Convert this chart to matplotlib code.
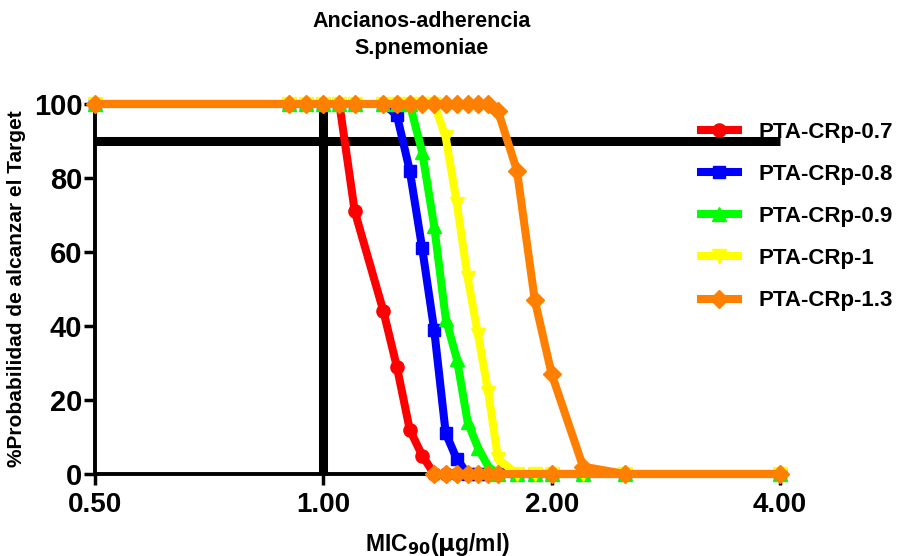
import matplotlib
matplotlib.use("Agg")
import matplotlib.pyplot as plt
from matplotlib.ticker import FixedLocator, NullLocator

# MIC grid (µg/ml)
mic = [0.5, 0.9, 0.95, 1.0, 1.05, 1.1, 1.2, 1.25, 1.3, 1.35, 1.4, 1.45,
       1.5, 1.55, 1.6, 1.65, 1.7, 1.8, 1.9, 2.0, 2.2, 2.5, 4.0]

pta_07 = [100, 100, 100, 100, 100, 71, 44, 29, 12, 5, 0, 0,
          0, 0, 0, 0, 0, 0, 0, 0, 0, 0, 0]
pta_08 = [100, 100, 100, 100, 100, 100, 100, 97, 82, 61, 39, 11,
          4, 0, 0, 0, 0, 0, 0, 0, 0, 0, 0]
pta_09 = [100, 100, 100, 100, 100, 100, 100, 100, 100, 87, 67, 42,
          31, 14, 7, 2, 0, 0, 0, 0, 0, 0, 0]
pta_10 = [100, 100, 100, 100, 100, 100, 100, 100, 100, 100, 100, 91,
          73, 53, 37.5, 22, 4, 0, 0, 0, 0, 0, 0]
pta_13 = [100, 100, 100, 100, 100, 100, 100, 100, 100, 100, 100, 100,
          100, 100, 100, 100, 98, 82, 47, 27, 2, 0, 0]
# additional rows of the 1.3 series (row order kept as in the table)
pta_13_extra_mic = [1.4, 1.45, 1.5, 1.55, 1.6, 1.65, 1.7, 2.0]
pta_13_extra = [0, 0, 0, 0, 0, 0, 0, 0]

labels = ["PTA-CRp-0.7", "PTA-CRp-0.8", "PTA-CRp-0.9", "PTA-CRp-1", "PTA-CRp-1.3"]
colors = ["#FF0000", "#0000FF", "#00FF00", "#FFFF00", "#FF8000"]
markers = ["o", "s", "^", "v", "D"]
msizes = [9.5, 9, 10, 10, 9]

target = 90
mic_cut = 1.0
xticks = [0.5, 1.0, 2.0, 4.0]
xticklabels = ["0.50", "1.00", "2.00", "4.00"]
yticks = [0, 20, 40, 60, 80, 100]

narrow = ["Liberation Sans Narrow", "Liberation Sans", "DejaVu Sans"]
wide = ["Liberation Sans", "DejaVu Sans"]

fig = plt.figure(figsize=(9.02, 5.56), dpi=100)
ax = fig.add_axes([95 / 902, 1 - 474 / 556, (780 - 95) / 902, (474 - 104) / 556])

ax.set_xscale("log", base=2)
ax.set_xlim(0.5, 4.0)
ax.set_ylim(0, 100)

# reference lines
ax.plot([0.5, 4.0], [target, target], color="black", lw=6.5, solid_capstyle="butt",
        zorder=2, clip_on=False)
ax.plot([mic_cut, mic_cut], [0, 100], color="black", lw=6.5, solid_capstyle="butt",
        zorder=2, clip_on=False)

series = [pta_07, pta_08, pta_09, pta_10, pta_13]
handles = []
for i, (ys, lab, c, m, ms) in enumerate(zip(series, labels, colors, markers, msizes)):
    xs = list(mic)
    yv = list(ys)
    if i == 4:
        xs = xs + pta_13_extra_mic
        yv = yv + pta_13_extra
    h, = ax.plot(xs, yv, color=c, lw=5.8, marker=m, ms=ms, mec=c, mfc=c,
                 label=lab, zorder=3 + i, clip_on=False, solid_joinstyle="miter")
    handles.append(h)

# axes styling
for s in ["top", "right"]:
    ax.spines[s].set_visible(False)
for s in ["left", "bottom"]:
    ax.spines[s].set_linewidth(2.8)
    ax.spines[s].set_zorder(1)

ax.xaxis.set_major_locator(FixedLocator(xticks))
ax.xaxis.set_minor_locator(NullLocator())
ax.set_xticklabels(xticklabels)
ax.set_yticks(yticks)
ax.tick_params(axis="both", which="major", direction="out", length=8, width=2.5)
ax.tick_params(axis="y", pad=1)
ax.tick_params(axis="x", pad=5)
for t in ax.get_xticklabels():
    t.set_fontfamily(narrow)
    t.set_fontweight("bold")
    t.set_fontsize(20)
for t in ax.get_yticklabels():
    t.set_fontfamily(wide)
    t.set_fontweight("bold")
    t.set_fontsize(21)

ax.set_ylabel("%Probabilidad de alcanzar el Target", fontsize=15, fontweight="bold",
              family=wide, labelpad=6)
ax.set_xlabel(r"MIC$_{\mathbf{90}}$($\mathbf{\mu}$g/ml)", fontsize=16.5, fontweight="bold",
              family=narrow, labelpad=9)

fig.text(422 / 902, 1 - 35 / 556, "Ancianos-adherencia\nS.pnemoniae", ha="center",
         va="center", fontsize=15.5, fontweight="bold", family=narrow, linespacing=1.4)

leg = fig.legend(handles=handles, labels=labels, loc="upper left",
                 bbox_to_anchor=(692 / 902, 1 - 113 / 556), frameon=False,
                 prop={"family": wide, "weight": "bold", "size": 16},
                 handlelength=1.65, handletextpad=0.95, labelspacing=0.95,
                 borderaxespad=0)

fig.savefig("out.png", dpi=100)
